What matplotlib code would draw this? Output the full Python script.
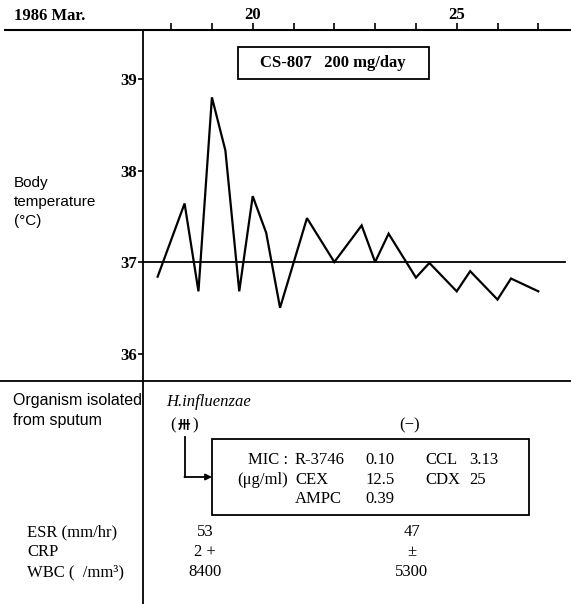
import matplotlib.pyplot as plt
from matplotlib.patches import Rectangle

plt.rcParams['font.family'] = ['Liberation Serif', 'DejaVu Sans']

# body temperature, twice a day (day of March 1986)
temp_days = [17.67, 18.33, 18.67, 19.0, 19.33, 19.67, 20.0, 20.33, 20.67, 21.33,
             22.0, 22.67, 23.0, 23.33, 24.0, 24.33, 25.0, 25.33, 26.0, 26.33, 27.0]
temp_vals = [36.84, 37.64, 36.68, 38.80, 38.22, 36.68, 37.72, 37.32, 36.50, 37.48,
             37.00, 37.40, 37.00, 37.31, 36.83, 36.99, 36.68, 36.90, 36.59, 36.82, 36.68]

day_ticks = [18, 19, 20, 21, 22, 23, 24, 25, 26, 27]
day_labels = ['', '', '20', '', '', '', '', '25', '', '']
temp_ticks = [36, 37, 38, 39]

drug_label = 'CS-807   200 mg/day'

# lab table
lab_names = ['ESR (mm/hr)', 'CRP', 'WBC (  /mm³)']
lab_first = ['53', '2 +', '8400']
lab_second = ['47', '±', '5300']

organism = 'H.influenzae'
culture_first = '卅'
culture_second = '(−)'

mic_drugs = ['R-3746', 'CEX', 'AMPC']
mic_vals = ['0.10', '12.5', '0.39']
mic_drugs2 = ['CCL', 'CDX']
mic_vals2 = ['3.13', '25']

W, H = 571, 604
fig = plt.figure(figsize=(W / 100, H / 100), dpi=100)

# frame axes in pixel units for the layout lines and text
frame = fig.add_axes([0, 0, 1, 1])
frame.set_xlim(0, W)
frame.set_ylim(H, 0)
frame.axis('off')

frame.plot([5, W], [30, 30], color='black', lw=1.5)
frame.plot([143, 143], [30, H], color='black', lw=1.3)
frame.plot([0, W], [381, 381], color='black', lw=1.3)

# temperature axes
x0, x1 = 143, 571
y0, y1 = 30, 382
ax = fig.add_axes([x0 / W, 1 - y1 / H, (x1 - x0) / W, (y1 - y0) / H])
ax.patch.set_alpha(0)
ax.set_xlim(17.311, 27.801)
ax.set_ylim(35.689, 39.536)
for s in ax.spines.values():
    s.set_visible(False)

ax.plot(temp_days, temp_vals, color='black', lw=1.6, solid_joinstyle='miter')
ax.axhline(37, xmax=(565 - x0) / (x1 - x0), color='black', lw=1.3)

ax.xaxis.tick_top()
ax.set_xticks(day_ticks)
ax.set_xticklabels(day_labels, fontsize=12, fontweight='bold')
ax.tick_params(axis='x', direction='out', length=5, width=1.2, pad=0)
ax.set_yticks(temp_ticks)
ax.set_yticklabels([str(t) for t in temp_ticks], fontsize=12, fontweight='bold')
ax.tick_params(axis='y', direction='out', length=3.6, width=1.2, pad=1)

# top-left date
frame.text(14, 16, '1986 Mar.', fontsize=12, fontweight='bold', ha='left', va='center')

# drug box
frame.add_patch(Rectangle((238, 47), 191, 32, fill=False, ec='black', lw=1.3))
frame.text(333, 63, drug_label, fontsize=12, fontweight='bold', ha='center', va='center')

sans = ['Liberation Sans', 'DejaVu Sans']
for yy, t in zip([183, 202, 221], ['Body', 'temperature', '(°C)']):
    frame.text(14, yy, t, fontsize=11, family=sans, ha='left', va='center')

frame.text(13, 400, 'Organism isolated', fontsize=11.5, family=sans, ha='left', va='center')
frame.text(13, 421, 'from sputum', fontsize=11.5, family=sans, ha='left', va='center')

frame.text(166, 402, organism, fontsize=12, style='italic', ha='left', va='center')
frame.text(173, 425, '(', fontsize=12, ha='center', va='center')
frame.text(183.5, 425, culture_first, fontsize=9, fontweight='bold', ha='center', va='center',
           family=['Noto Sans CJK JP'])
frame.text(195, 425, ')', fontsize=12, ha='center', va='center')
frame.text(410, 425, culture_second, fontsize=12, ha='center', va='center')

# MIC box with arrow
frame.add_patch(Rectangle((212, 439), 317, 76, fill=False, ec='black', lw=1.3))
frame.plot([185, 185], [437, 477], color='black', lw=1.3)
frame.annotate('', xy=(212, 477), xytext=(184.4, 477),
               arrowprops=dict(arrowstyle='-|>', color='black', lw=1.3,
                               shrinkA=0, shrinkB=0, mutation_scale=9))

row_y = [460, 480, 499]
frame.text(288, row_y[0], 'MIC :', fontsize=12, ha='right', va='center')
frame.text(237, row_y[1], '(μg/ml)', fontsize=12, ha='left', va='center')
for yy, d, v in zip(row_y, mic_drugs, mic_vals):
    frame.text(295, yy, d, fontsize=12, ha='left', va='center')
    frame.text(380, yy, v, fontsize=12, ha='center', va='center')
for yy, d, v in zip(row_y, mic_drugs2, mic_vals2):
    frame.text(425, yy, d, fontsize=12, ha='left', va='center')
    frame.text(469, yy, v, fontsize=12, ha='left', va='center')

# lab rows
for yy, n, a, b in zip([532, 552, 572], lab_names, lab_first, lab_second):
    frame.text(27, yy, n, fontsize=12, ha='left', va='center')
    frame.text(205, yy, a, fontsize=12, ha='center', va='center')
    frame.text(412, yy, b, fontsize=12, ha='center', va='center')

fig.savefig('out.png', dpi=100)
